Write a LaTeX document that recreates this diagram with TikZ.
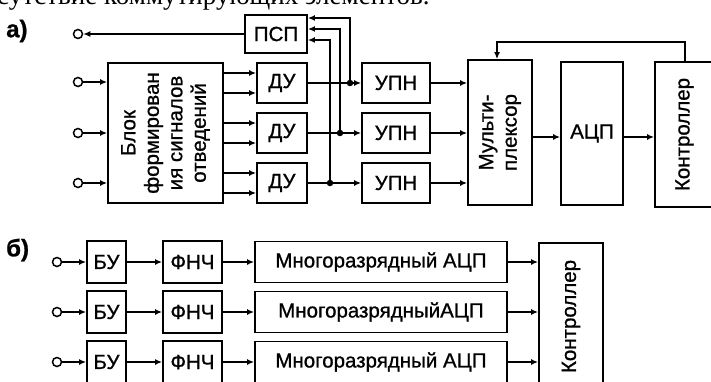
\documentclass[tikz,border=0pt]{standalone}
\usepackage{fontspec}
\setmainfont{Liberation Sans}[FakeBold=0.9]
\newfontfamily\serifcut{Liberation Serif}
\usetikzlibrary{arrows.meta,calc}
\begin{document}
\begin{tikzpicture}[x=1pt,y=-1pt,
  box/.style={draw, line width=1.8pt, inner sep=0pt, font=\fontsize{20.5}{23.5}\selectfont, align=center},
  rot/.style={rotate=90, inner sep=0pt, font=\fontsize{20.5}{23.5}\selectfont, align=center},
  wire/.style={line width=1.5pt},
  arr/.style={wire, -{Latex[length=7pt,width=6pt]}},
  term/.style={circle, draw, line width=1.5pt, fill=white, inner sep=0pt, minimum size=9pt},
  dot/.style={circle, fill=black, inner sep=0pt, minimum size=6.5pt},
  lbl/.style={anchor=west, inner sep=0pt, font=\fontsize{24}{24}\selectfont\bfseries}
]
\useasboundingbox (0,0) rectangle (711,382);
\begin{scope}
\clip (0,0) rectangle (711,382);
\fill[white] (0,0) rectangle (711,382);
% cut-off line of page text
\node[anchor=base west, inner sep=0pt, font=\serifcut\fontsize{27}{27}\selectfont] (toptext) at (-3,5) {сутствие коммутирующих элементов.};

% ---------- part a ----------
\node[lbl] (la) at (6,31) {а)};
\node[box, minimum width=62pt, minimum height=38pt] (psp) at (276,34) {ПСП};
\node[term] (t0) at (78,34) {};
\draw[arr] (psp.west) -- (t0.east);

\node[box, minimum width=115pt, minimum height=140pt] (blk) at (165.5,133) {};
\node[rot] (blkt) at (blk.center) {Блок\\формирован\\ия сигналов\\отведений};

\foreach \i/\y in {1/82,2/133,3/183}{
  \node[term] (t\i) at (78,\y) {};
  \draw[arr] (t\i.east) -- (t\i.east -| blk.west);
}

\node[box, minimum width=50pt, minimum height=40pt] (du1) at (282,83) {ДУ};
\node[box, minimum width=50pt, minimum height=40pt] (du2) at (282,133) {ДУ};
\node[box, minimum width=50pt, minimum height=40pt] (du3) at (282,183) {ДУ};

\foreach \i in {1,2,3}{
  \draw[arr] ($(blk.east |- du\i.west)+(0,-10)$) -- ($(du\i.west)+(0,-10)$);
  \draw[arr] ($(blk.east |- du\i.west)+(0,10)$) -- ($(du\i.west)+(0,10)$);
}

\node[box, minimum width=68pt, minimum height=40pt] (upn1) at (396,83) {УПН};
\node[box, minimum width=68pt, minimum height=40pt] (upn2) at (396,133) {УПН};
\node[box, minimum width=68pt, minimum height=40pt] (upn3) at (396,183) {УПН};

\foreach \i in {1,2,3}{
  \draw[arr] (du\i.east) -- (upn\i.west);
}

\coordinate (p1) at (350,18);
\coordinate (p2) at (340,29);
\coordinate (p3) at (330,40);
\node[dot] (d1) at (350,83) {};
\node[dot] (d2) at (340,133) {};
\node[dot] (d3) at (330,183) {};
\draw[arr] (d1.center) -- (p1) -- (p1 -| psp.east);
\draw[arr] (d2.center) -- (p2) -- (p2 -| psp.east);
\draw[arr] (d3.center) -- (p3) -- (p3 -| psp.east);

\node[box, minimum width=64pt, minimum height=145pt] (mux) at (500,132.5) {};
\node[rot] (muxt) at (mux.center) {Мульти-\\плексор};
\node[box, minimum width=62pt, minimum height=143pt] (adc) at (592,133.5) {АЦП};
\node[box, minimum width=59pt, minimum height=145pt] (ctrl) at (684.5,134.5) {};
\node[rot] (ctrlt) at (ctrl.center) {Контроллер};

\foreach \i in {1,2,3}{
  \draw[arr] (upn\i.east) -- (upn\i.east -| mux.west);
}
\coordinate (r) at (0,137);
\draw[arr] (mux.east |- r) -- (adc.west |- r);
\draw[arr] (adc.east |- r) -- (ctrl.west |- r);

\coordinate (fb1) at (685,42);
\coordinate (fb2) at (497,42);
\draw[arr] (ctrl.north -| fb1) -- (fb1) -- (fb2) -- (fb2 |- mux.north);

% ---------- part b ----------
\node[lbl] (lb) at (6,250) {б)};
\node[box, minimum width=64pt, minimum height=147pt] (ctrlb) at (571,316.5) {};
\node[rot] (ctrlbt) at (ctrlb.center) {Контроллер};

\foreach \i/\y/\txt in {1/262/{Многоразрядный АЦП},2/312/{МногоразрядныйАЦП},3/362/{Многоразрядный АЦП}}{
  \node[term] (s\i) at (57,\y) {};
  \node[box, minimum width=39pt, minimum height=42pt] (bu\i) at (106.5,\y) {БУ};
  \node[box, minimum width=59pt, minimum height=42pt] (f\i) at (192.5,\y) {ФНЧ};
  \node[box, minimum width=252pt, minimum height=41pt] (m\i) at (381,\y) {\txt};
  \draw[arr] (s\i.east) -- (bu\i.west);
  \draw[arr] (bu\i.east) -- (f\i.west);
  \draw[arr] (f\i.east) -- (m\i.west);
  \draw[arr] (m\i.east) -- (m\i.east -| ctrlb.west);
}
\end{scope}
\end{tikzpicture}
\end{document}
